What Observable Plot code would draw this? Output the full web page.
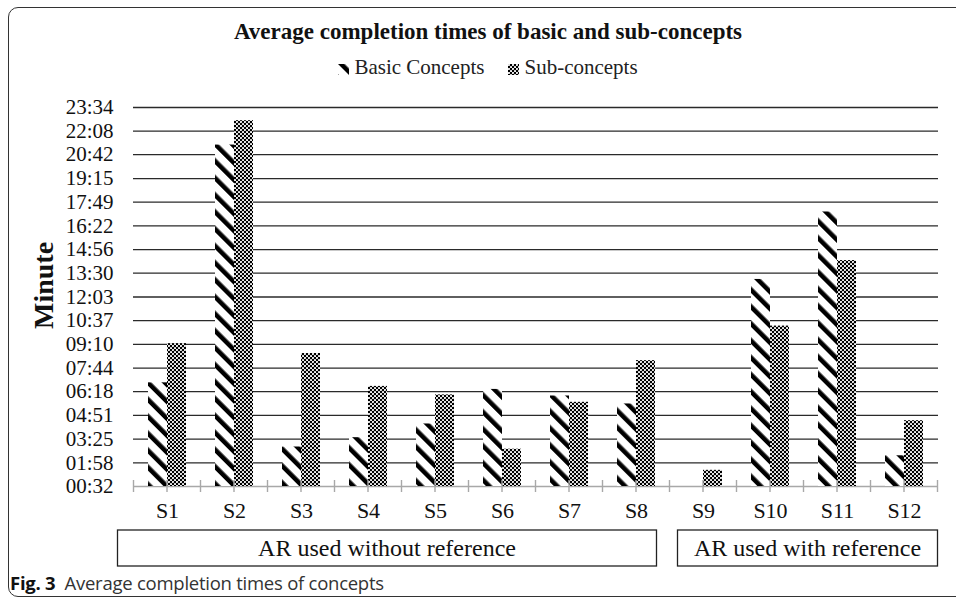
<!DOCTYPE html>
<html>
<head>
<meta charset="utf-8">
<script src="https://cdn.jsdelivr.net/npm/d3@7"></script>
<script src="https://cdn.jsdelivr.net/npm/@observablehq/plot@0.6"></script>
<style>
  html, body { margin: 0; padding: 0; }
  body { width: 956px; height: 601px; overflow: hidden; background: #fff; position: relative; font-family: "Liberation Serif", serif; color: #111; }
  #border { position: absolute; left: 8px; top: 7px; width: 1000px; height: 588px; border: 1.5px solid #333; border-radius: 10px; }
  #title { position: absolute; top: 18px; left: 0; width: 976px; text-align: center; font-weight: bold; font-size: 23px; line-height: 28px; }
  #legend { position: absolute; top: 54px; left: 0; width: 976px; text-align: center; font-size: 21px; line-height: 26px; color: #222; }
  #legend .item { display: inline-block; margin: 0 12px; }
  #legend svg { vertical-align: -1px; margin-right: 5px; }
  #chart { position: absolute; left: 0; top: 85px; }
  #caption { position: absolute; left: 10px; top: 570px; font-family: "Open Sans", sans-serif; font-size: 18.5px; color: #333; letter-spacing: -0.25px; }
  #caption b { color: #111; }
</style>
</head>
<body>
<svg width="0" height="0" style="position:absolute">
  <defs>
    <pattern id="stripes" patternUnits="userSpaceOnUse" width="12" height="12" patternTransform="rotate(-45)">
      <rect width="12" height="12" fill="#fff"></rect>
      <rect x="0" width="4.6" height="12" fill="#000"></rect>
    </pattern>
    <pattern id="dots" patternUnits="userSpaceOnUse" width="4" height="4">
      <rect width="4" height="4" fill="#000"></rect>
      <circle cx="1" cy="1" r="1.05" fill="#fff"></circle>
      <circle cx="3" cy="3" r="1.05" fill="#fff"></circle>
    </pattern>
  </defs>
</svg>
<div id="border"></div>
<div id="title">Average completion times of basic and sub-concepts</div>
<div id="legend"></div>
<div id="chart"></div>
<div id="caption"><b>Fig. 3</b>&nbsp; Average completion times of concepts</div>
<script>
// ---- data (seconds) ----
const categories = ["S1", "S2", "S3", "S4", "S5", "S6", "S7", "S8", "S9", "S10", "S11", "S12"];
const basicSeconds = [410, 1277, 176, 210, 260, 386, 362, 333, null, 787, 1033, 144];
const subSeconds = [553, 1366, 517, 397, 366, 168, 339, 491, 91, 617, 856, 272];
const seriesNames = ["Basic Concepts", "Sub-concepts"];
const yTickLabels = ["00:32", "01:58", "03:25", "04:51", "06:18", "07:44", "09:10", "10:37", "12:03", "13:30", "14:56", "16:22", "17:49", "19:15", "20:42", "22:08", "23:34"];
const groupNames = ["AR used without reference", "AR used with reference"];
const groupMembers = [["S1", "S2", "S3", "S4", "S5", "S6", "S7", "S8"], ["S9", "S10", "S11", "S12"]];
const yAxisTitle = "Minute";

const seriesFill = {"Basic Concepts": "url(#stripes)", "Sub-concepts": "url(#dots)"};

// legend
const legend = document.getElementById("legend");
seriesNames.forEach(name => {
  const span = document.createElement("span");
  span.className = "item";
  span.innerHTML = `<svg width="11" height="11"><rect width="11" height="11" fill="${seriesFill[name]}"></rect></svg>${name}`;
  legend.appendChild(span);
});

const toSec = s => { const [m, ss] = s.split(":").map(Number); return m * 60 + ss; };
const yTicks = yTickLabels.map(toSec);
const yMin = yTicks[0], yMax = yTicks[yTicks.length - 1];
const labelOf = new Map(yTicks.map((v, i) => [v, yTickLabels[i]]));

const basicRows = categories.map((c, i) => ({cat: c, value: basicSeconds[i]})).filter(d => d.value != null);
const subRows = categories.map((c, i) => ({cat: c, value: subSeconds[i]})).filter(d => d.value != null);

const chart = Plot.plot({
  width: 956,
  height: 485,
  marginLeft: 133,
  marginRight: 18,
  marginTop: 22,
  marginBottom: 84,
  style: {fontFamily: "Liberation Serif, serif", fontSize: "21px", color: "#111", background: "transparent"},
  x: {type: "band", domain: categories, paddingInner: 0.433, paddingOuter: 0.2165, tickSize: 0, tickPadding: 16, label: null},
  y: {domain: [yMin, yMax], ticks: yTicks, tickFormat: d => labelOf.get(d), tickSize: 0, tickPadding: 20, label: null},
  marks: [
    Plot.ruleY(yTicks.slice(1), {stroke: "#2a2a2a", strokeWidth: 1.3}),
    Plot.ruleY([yMin], {stroke: "#a8a8a8", strokeWidth: 1.4}),
    Plot.barY(basicRows, {x: "cat", y1: yMin, y2: "value", fill: seriesFill["Basic Concepts"], insetRight: 19}),
    Plot.barY(subRows, {x: "cat", y1: yMin, y2: "value", fill: seriesFill["Sub-concepts"], insetLeft: 19}),
    Plot.text([yAxisTitle], {frameAnchor: "left", dx: -89, dy: 32, rotate: -90, fontWeight: "bold", fontSize: 28})
  ]
});
document.getElementById("chart").appendChild(chart);

// extra decorations using the chart's own scales
const xs = chart.scale("x"), ys = chart.scale("y");
const step = xs.step, bw = xs.bandwidth;
const center = c => xs.apply(c) + bw / 2;
const y0 = ys.apply(yMin);
const svg = d3.select(chart);
svg.selectAll("g[aria-label='x-axis tick label'] text, g[aria-label='x-axis'] text").attr("font-size", 22);
const tickXs = [];
categories.forEach((c, i) => {
  tickXs.push(center(c) - step / 2, center(c));
  if (i === categories.length - 1) tickXs.push(center(c) + step / 2);
});
svg.append("g").selectAll("line").data(tickXs).join("line")
  .attr("x1", d => d).attr("x2", d => d)
  .attr("y1", y0 - 6).attr("y2", y0 + 6)
  .attr("stroke", "#a8a8a8").attr("stroke-width", 1.4);

const boxTop = y0 + 44, boxH = 36;
const g = svg.append("g");
groupMembers.forEach((members, gi) => {
  const first = members[0], last = members[members.length - 1];
  let x1 = center(first) - step / 2, x2 = center(last) + step / 2;
  if (gi === 0) { x1 -= 16; x2 -= 13; } else { x1 += 8; }
  g.append("rect").attr("x", x1).attr("y", boxTop).attr("width", x2 - x1).attr("height", boxH)
    .attr("fill", "none").attr("stroke", "#222").attr("stroke-width", 1.3);
  g.append("text").attr("x", (x1 + x2) / 2).attr("y", boxTop + boxH / 2).attr("dy", "0.34em")
    .attr("text-anchor", "middle").attr("font-size", 24).attr("fill", "#111").text(groupNames[gi]);
});
</script>
</body>
</html>
